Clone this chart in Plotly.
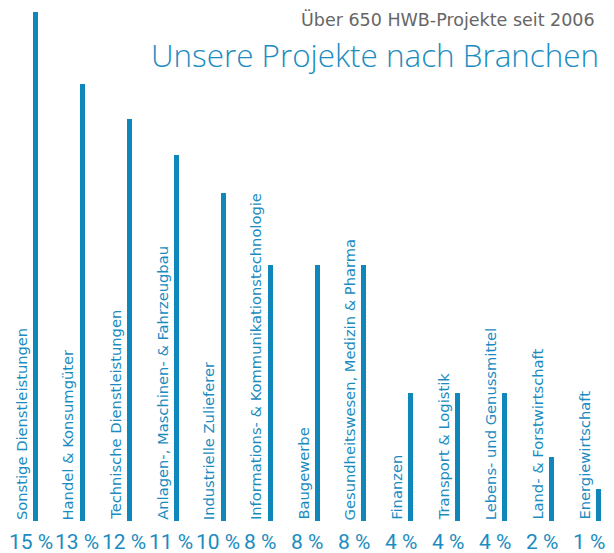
import plotly.graph_objects as go

categories = [
    "Sonstige Dienstleistungen",
    "Handel & Konsumgüter",
    "Technische Dienstleistungen",
    "Anlagen-, Maschinen- & Fahrzeugbau",
    "Industrielle Zulieferer",
    "Informations- & Kommunikationstechnologie",
    "Baugewerbe",
    "Gesundheitswesen, Medizin & Pharma",
    "Finanzen",
    "Transport & Logistik",
    "Lebens- und Genussmittel",
    "Land- & Forstwirtschaft",
    "Energiewirtschaft",
]
bar_values = [15.9, 13.65, 12.55, 11.45, 10.25, 8.0, 8.0, 8.0, 4.0, 4.0, 4.0, 2.0, 1.0]
percent_labels = ["15 %", "13 %", "12 %", "11 %", "10 %", "8 %", "8 %", "8 %",
                  "4 %", "4 %", "4 %", "2 %", "1 %"]

BLUE = "#0f87ba"
TEXT_BLUE = "#1a8cc0"
LABEL_FONT = "DejaVu Sans"
PCT_FONT = "Liberation Sans Narrow, Roboto"
TITLE_FONT = "Open Sans"

OFF = 8  # page body margin
W, H = 614 - 2 * OFF, 553 - OFF
px_per_unit = 46.92
first_bar_px = 35.5 - OFF
x0 = -first_bar_px / px_per_unit
x1 = x0 + W / px_per_unit
plot_bottom = 521 - OFF
px_per_pct = 32.0

xs = list(range(len(categories)))

fig = go.Figure()
fig.add_trace(go.Bar(
    x=xs, y=bar_values, width=5 / px_per_unit,
    marker=dict(color=BLUE, line=dict(width=0)),
    hoverinfo="skip",
))

annotations = []
for i, (cat, pl) in enumerate(zip(categories, percent_labels)):
    annotations.append(dict(
        x=i, y=0, xref="x", yref="y", text=cat, textangle=-90,
        showarrow=False, xanchor="center", yanchor="bottom",
        xshift=-14.5, yshift=0, borderpad=0,
        font=dict(family=LABEL_FONT, size=14.7, color=TEXT_BLUE),
    ))
    annotations.append(dict(
        x=i, y=0, xref="x", yref="y", text=pl,
        showarrow=False, xanchor="center", yanchor="middle",
        xshift=-10 if len(pl) <= 3 else -5, yshift=-20.5, borderpad=0,
        font=dict(family=PCT_FONT, size=21, color=TEXT_BLUE),
    ))

titles = [
    dict(px=596 - OFF, py=19 - OFF, text="Über 650 HWB-Projekte seit 2006",
         font=dict(family=LABEL_FONT, size=17.5, color="#666666")),
    dict(px=600 - OFF, py=54 - OFF, text="Unsere Projekte nach Branchen",
         font=dict(family=TITLE_FONT, size=31.4, color=TEXT_BLUE, weight=300)),
]
for t in titles:
    annotations.append(dict(
        x=t["px"] / W, y=(plot_bottom - t["py"]) / plot_bottom,
        xref="paper", yref="paper", text=t["text"], showarrow=False,
        xanchor="right", yanchor="middle", borderpad=0, font=t["font"],
    ))

fig.update_layout(
    width=W, height=H,
    margin=dict(l=0, r=0, t=0, b=H - plot_bottom, pad=0),
    paper_bgcolor="white", plot_bgcolor="white",
    showlegend=False,
    xaxis=dict(range=[x0, x1], visible=False, fixedrange=True),
    yaxis=dict(range=[0, plot_bottom / px_per_pct], visible=False, fixedrange=True),
    annotations=annotations,
    bargap=0,
)

fig.write_html("out.html", config={"displayModeBar": False})
